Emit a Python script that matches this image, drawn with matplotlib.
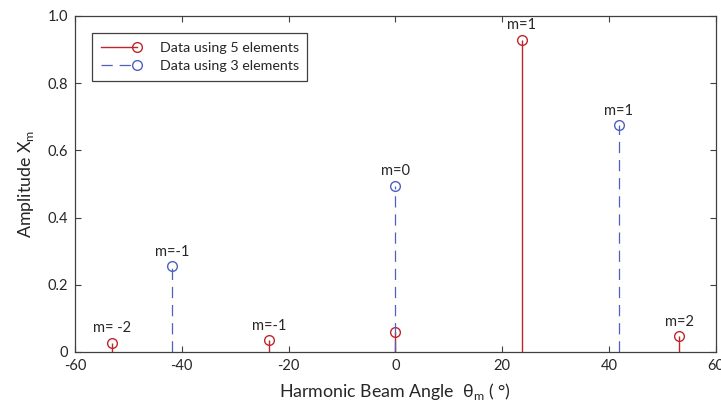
import numpy as np
import matplotlib
matplotlib.use('Agg')
import matplotlib.pyplot as plt
from matplotlib.legend_handler import HandlerLine2D
from matplotlib.lines import Line2D

plt.rcParams['font.family'] = ['Lato', 'DejaVu Sans']
plt.rcParams['axes.unicode_minus'] = False

# harmonic beam angles (deg) and amplitudes
angles_5 = [-53.1, -23.6, 0.0, 23.6, 53.1]
amps_5 = [0.028, 0.035, 0.058, 0.930, 0.047]
labels_5 = ['m= -2', 'm=-1', None, 'm=1', 'm=2']

angles_3 = [-41.8, 0.0, 41.8]
amps_3 = [0.255, 0.495, 0.675]
labels_3 = ['m=-1', 'm=0', 'm=1']

red = '#BE262D'
blue = '#4F60BE'
txt = '#262626'


class StemHandler(HandlerLine2D):
    # line with the marker sitting at its right end (matlab stem legend look)
    def create_artists(self, legend, orig_handle, xdescent, ydescent,
                       width, height, fontsize, trans):
        y = (height - ydescent) / 2
        x0, x1 = -xdescent, -xdescent + width
        line = Line2D([x0, x1], [y, y])
        self.update_prop(line, orig_handle, legend)
        line.set_marker('None')
        mark = Line2D([x1], [y])
        self.update_prop(mark, orig_handle, legend)
        mark.set_linestyle('None')
        line.set_transform(trans)
        mark.set_transform(trans)
        return [line, mark]


fig = plt.figure(figsize=(7.21, 4.11), dpi=100)
ax = fig.add_axes([0.104, 0.1436, 0.889, 0.8175])

ml, sl, bl = ax.stem(angles_5, amps_5, basefmt=' ')
plt.setp(sl, color=red, linewidth=1.0)
plt.setp(ml, color=red, marker='o', markersize=7, markerfacecolor='none', markeredgewidth=1.0)

ml3, sl3, bl3 = ax.stem(angles_3, amps_3, basefmt=' ')
plt.setp(sl3, color=blue, linewidth=0.9, linestyle=(0, (9, 5.5)))
plt.setp(ml3, color=blue, marker='o', markersize=7, markerfacecolor='none', markeredgewidth=1.0)

for x, y, s in zip(angles_5, amps_5, labels_5):
    if s:
        ax.text(x, y + 0.022, s, ha='center', va='bottom', fontsize=10.5, color=txt)
for x, y, s in zip(angles_3, amps_3, labels_3):
    ax.text(x, y + 0.022, s, ha='center', va='bottom', fontsize=10.5, color=txt)

ax.set_xlim(-60, 60)
ax.set_ylim(0, 1.0)
ax.set_xticks([-60, -40, -20, 0, 20, 40, 60])
ax.set_yticks([0, 0.2, 0.4, 0.6, 0.8, 1.0])
ax.set_yticklabels(['0', '0.2', '0.4', '0.6', '0.8', '1.0'])
ax.tick_params(direction='in', top=True, right=True, length=4, width=0.8,
               colors='#404040', labelcolor=txt, labelsize=10.5, pad=5)
for sp in ax.spines.values():
    sp.set_color('#404040')
    sp.set_linewidth(0.9)

ax.set_xlabel('Harmonic Beam Angle  \u03b8$_\\mathregular{m}$ ( \u00b0)', fontsize=12.8, color=txt, labelpad=6)
ax.set_ylabel('Amplitude X$_\\mathregular{m}$', fontsize=12.8, color=txt, labelpad=8)

h5 = Line2D([], [], color=red, linewidth=1.0, marker='o', markersize=7,
            markerfacecolor='none', markeredgewidth=1.0)
h3 = Line2D([], [], color=blue, linewidth=0.9, linestyle=(0, (9, 5.5)), marker='o', markersize=7,
            markerfacecolor='none', markeredgewidth=1.0)
leg = ax.legend([h5, h3], ['Data using 5 elements', 'Data using 3 elements'],
                loc='upper left', bbox_to_anchor=(0.027, 0.949), borderaxespad=0,
                fontsize=10.3, handlelength=2.5, handletextpad=1.6, borderpad=0.6,
                labelspacing=0.45, fancybox=False, framealpha=1, edgecolor='#404040',
                handler_map={h5: StemHandler(), h3: StemHandler()})
leg.get_frame().set_linewidth(0.9)
for t in leg.get_texts():
    t.set_color(txt)

fig.savefig('out.png', dpi=100)
